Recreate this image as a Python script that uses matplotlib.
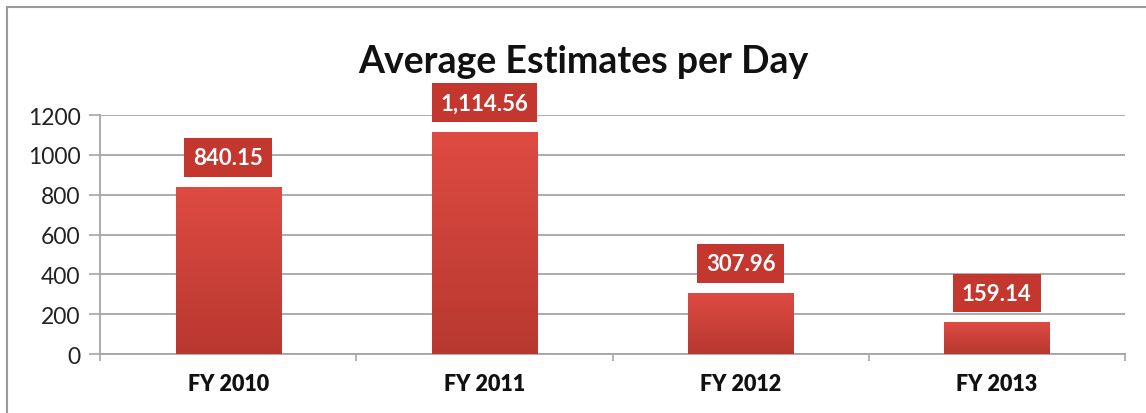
import numpy as np
import matplotlib.pyplot as plt
from matplotlib.patches import Rectangle
from matplotlib.colors import LinearSegmentedColormap

# Average estimates per day by fiscal year
years = ['FY 2010', 'FY 2011', 'FY 2012', 'FY 2013']
estimates = [840.15, 1114.56, 307.96, 159.14]
value_labels = ['840.15', '1,114.56', '307.96', '159.14']

plt.rcParams['font.family'] = ['Lato', 'DejaVu Sans']

fig = plt.figure(figsize=(11.46, 4.14), dpi=100)
ax = fig.add_axes([0.0873, 0.1425, 0.8944, 0.5773])

# outer chart frame (runs off the right and bottom edges)
fig.patches.append(Rectangle((7 / 1146, -0.2), 1.2, (414 - 8) / 414 + 0.2,
                             transform=fig.transFigure, fill=False,
                             edgecolor='#9a9a9a', linewidth=1.5, zorder=0))

x = np.arange(len(years))
bars = ax.bar(x, estimates, width=0.41, color='#cf433b', zorder=2)

# vertical red gradient inside each bar
grad = np.linspace(0, 1, 256).reshape(-1, 1)
cmap = LinearSegmentedColormap.from_list('barred', ['#b8382f', '#de4b43'])
for b in bars:
    bx, by = b.get_x(), b.get_y()
    im = ax.imshow(grad, cmap=cmap, origin='lower', aspect='auto',
                   extent=(bx, bx + b.get_width(), by, by + b.get_height()),
                   zorder=3)
    im.set_clip_path(b)

# value tags above the bars
for xi, v, lab in zip(x, estimates, value_labels):
    ax.annotate(lab, (xi, v), xytext=(0, 13.5), textcoords='offset points',
                ha='center', va='bottom', color='white', fontsize=16,
                fontweight='bold', zorder=5,
                bbox=dict(boxstyle='square,pad=0.4', fc='#c3372f', ec='none'))

ax.set_xlim(-0.5, len(years) - 0.5)
ax.set_ylim(0, 1200)
ax.set_yticks(range(0, 1201, 200))
ax.yaxis.grid(True, color='#a5a5a5', linewidth=1.3, zorder=0)
ax.set_axisbelow(True)

ax.set_xticks(x)
ax.set_xticklabels(years, fontsize=15.5, fontweight='heavy', color='#111111')
ax.set_xticks(np.arange(-0.5, len(years)), minor=True)
ax.tick_params(axis='x', which='major', length=0, pad=14)
ax.tick_params(axis='x', which='minor', length=5, color='#a5a5a5', width=1.2)
ax.tick_params(axis='y', length=8, color='#a5a5a5', width=1.2,
               labelsize=16.5, labelcolor='#222222', pad=6)

for side in ['top', 'right']:
    ax.spines[side].set_visible(False)
for side in ['left', 'bottom']:
    ax.spines[side].set_color('#a5a5a5')
    ax.spines[side].set_linewidth(1.3)

fig.text(0.509, 0.85, 'Average Estimates per Day', ha='center', va='center',
         fontsize=27, fontweight='bold', color='#111111')

fig.savefig('out.png', dpi=100)
